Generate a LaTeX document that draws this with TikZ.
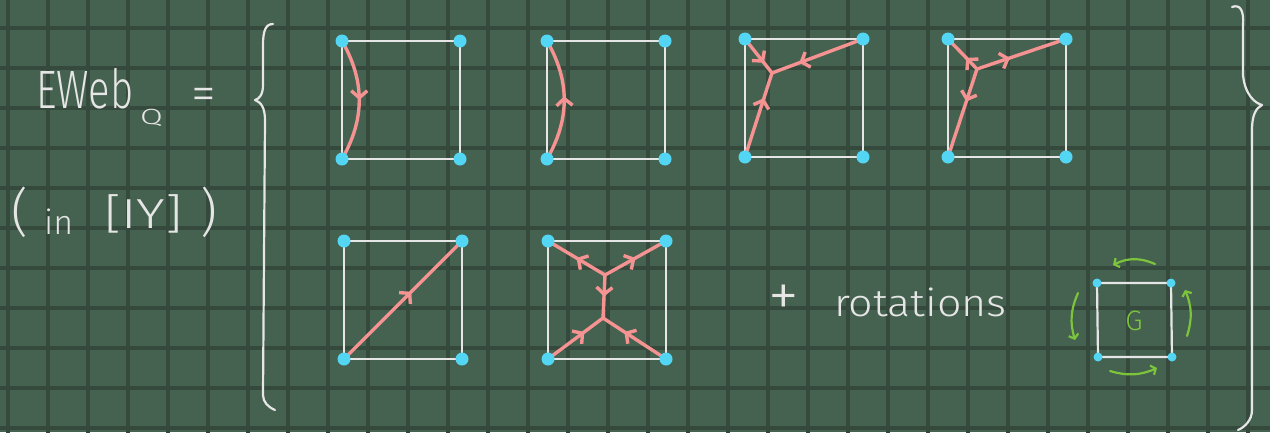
\documentclass[tikz,border=0pt]{standalone}
\usepackage{fontspec}
\newfontfamily\hand{Fira Sans Light}
\usetikzlibrary{arrows.meta, decorations.markings}
\definecolor{cboard}{HTML}{45614F}
\definecolor{cgrid}{HTML}{35493D}
\definecolor{cchalk}{HTML}{E6E6E6}
\definecolor{cdot}{HTML}{52D6F4}
\definecolor{cweb}{HTML}{F59393}
\definecolor{cgreen}{HTML}{7CC43B}
\tikzset{
  every picture/.style={line cap=round, line join=round},
  hw/.style={text=cchalk, font=\hand\fontsize{#1}{#1}\selectfont, inner sep=0pt},
  frame/.style={draw=cchalk, line width=2.2pt},
  web/.style={draw, color=cweb, line width=3.4pt},
  midarrow/.style={postaction={decorate}, decoration={markings, mark=at position #1 with {\arrow{Straight Barb[length=7pt, width=16pt]}}}},
  midarrow/.default=0.5,
  turn/.style={draw=cgreen, line width=2.2pt, -{Straight Barb[length=4pt, width=10pt]}},
  brace/.style={draw=cchalk, line width=2.2pt},
}
\begin{document}
\begin{tikzpicture}[x=1pt, y=-1pt]
  \useasboundingbox (0,0) rectangle (1270,432);
  \fill[cboard] (0,0) rectangle (1270,432);
  \foreach \x in {8,48,...,1248} \draw[cgrid, line width=3.5pt] (\x,-5) -- (\x,440);
  \foreach \y in {28,68,...,428} \draw[cgrid, line width=3.5pt] (-5,\y) -- (1275,\y);
  % the six squares
  \foreach \n/\x/\y in {a/342/41, b/547/41, c/745/39, d/948/39, e/344/241, f/548/241} {
    \coordinate (\n-tl) at (\x,\y);
    \coordinate (\n-tr) at (\x+118,\y);
    \coordinate (\n-bl) at (\x,\y+118);
    \coordinate (\n-br) at (\x+118,\y+118);
    \draw[frame] (\n-tl) -- (\n-tr) -- (\n-br) -- (\n-bl) -- cycle;
  }
  \coordinate (g-tl) at (1097,283);
  \coordinate (g-tr) at (1171,283);
  \coordinate (g-bl) at (1098,357);
  \coordinate (g-br) at (1172,357);
  \draw[frame] (g-tl) -- (g-tr) -- (g-br) -- (g-bl) -- cycle;
  \coordinate (c-v) at (772,73);
  \coordinate (d-v) at (977,69);
  \coordinate (f-u) at (605,275);
  \coordinate (f-w) at (603,318);
  % webs
  \draw[web, midarrow] (a-tl) to[bend left=30] (a-bl);
  \draw[web, midarrow=0.53] (b-bl) to[bend right=30] (b-tl);
  \foreach \c in {tl,tr,bl} \draw[web, midarrow=0.7] (c-\c) -- (c-v);
  \foreach \c in {tl,tr,bl} \draw[web, midarrow=0.37] (d-v) -- (d-\c);
  \draw[web, midarrow=0.57] (e-bl) -- (e-tr);
  \foreach \c in {tl,tr,w} \draw[web, midarrow] (f-u) -- (f-\c);
  \foreach \c in {bl,br} \draw[web, midarrow=0.66] (f-\c) -- (f-w);
  \foreach \n in {a,b,c,d,e,f} \foreach \c in {tl,tr,bl,br} \fill[cdot] (\n-\c) circle (6.5);
  \foreach \c in {tl,tr,bl,br} \fill[cdot] (g-\c) circle (4.5);
  % rotation arrows
  \draw[turn] (1155,264) to[bend right=25] (1113,265);
  \draw[turn] (1078,293) to[bend right=20] (1075,340);
  \draw[turn] (1110,371) to[bend right=20] (1157,368);
  \draw[turn] (1187,336) to[bend right=20] (1185,290);
  \node[hw=28, text=cgreen] (glabel) at (1134,321) {G};
  % braces
  \draw[brace] (273,24) .. controls (266,24) and (263,30) .. (263,45) -- (263,85) .. controls (263,95) and (259,99) .. (255,100) .. controls (261,102) and (265,108) .. (265,120) -- (263,395) .. controls (263,402) and (268,407) .. (275,410);
  \draw[brace] (1232,7) .. controls (1240,4) and (1244,10) .. (1243,25) -- (1243,75) .. controls (1245,95) and (1255,103) .. (1262,105) .. controls (1256,108) and (1252,115) .. (1252,130) -- (1252,410) .. controls (1252,420) and (1245,427) .. (1238,430);
  % texts
  \node[hw=54, anchor=base west] (eweb) at (36,108) {\scalebox{0.74}[1]{EWeb}};
  \node[hw=22, anchor=base west] (sub) at (140,124) {\scalebox{1.5}[1]{Q}};
  \node[hw=50] (eq) at (204,99) {=};
  \node[hw=52] (lpar) at (20,212) {(};
  \node[hw=34, anchor=base west] (inword) at (44,234) {in};
  \node[hw=42, anchor=base west] (iy) at (104,228) {\scalebox{1.3}[1]{[IY]}};
  \node[hw=52] (rpar) at (209,212) {)};
  \node[hw=62] (plus) at (784,301) {+};
  \node[hw=38, anchor=base west] (rot) at (834,316) {\scalebox{1.13}[1]{rotations}};
\end{tikzpicture}
\end{document}
